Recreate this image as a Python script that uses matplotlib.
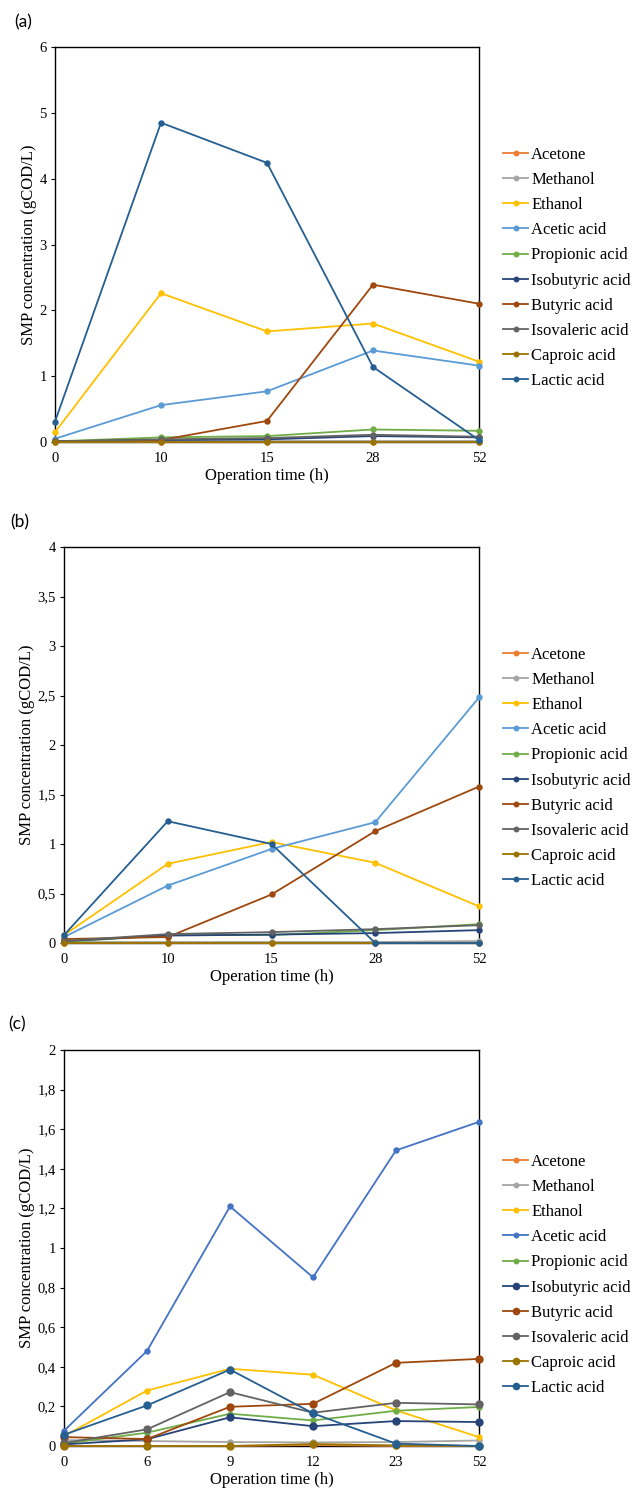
import matplotlib
matplotlib.use("Agg")
import matplotlib.pyplot as plt

plt.rcParams['font.family'] = ['Liberation Serif', 'DejaVu Serif']

series_names = ["Acetone", "Methanol", "Ethanol", "Acetic acid", "Propionic acid",
                "Isobutyric acid", "Butyric acid", "Isovaleric acid", "Caproic acid", "Lactic acid"]

colors_ab = ["#ED7D31", "#A5A5A5", "#FFC000", "#5B9BD5", "#70AD47",
             "#264478", "#9E480E", "#636363", "#997300", "#255E91"]
colors_c = ["#ED7D31", "#A5A5A5", "#FFC000", "#4472C4", "#70AD47",
            "#264478", "#9E480E", "#636363", "#997300", "#255E91"]

# Panel (a)
times_a = ["0", "10", "15", "28", "52"]
acetone_a = [0.0, 0.0, 0.0, 0.0, 0.0]
methanol_a = [0.01, 0.01, 0.01, 0.01, 0.01]
ethanol_a = [0.15, 2.26, 1.68, 1.80, 1.22]
acetic_a = [0.05, 0.56, 0.77, 1.39, 1.16]
propionic_a = [0.01, 0.07, 0.09, 0.19, 0.17]
isobutyric_a = [0.01, 0.03, 0.04, 0.09, 0.07]
butyric_a = [0.01, 0.03, 0.32, 2.39, 2.10]
isovaleric_a = [0.01, 0.04, 0.06, 0.11, 0.08]
caproic_a = [0.0, 0.0, 0.0, 0.0, 0.0]
lactic_a = [0.31, 4.85, 4.24, 1.14, 0.03]

# Panel (b)
times_b = ["0", "10", "15", "28", "52"]
acetone_b = [0.0, 0.0, 0.0, 0.0, 0.0]
methanol_b = [0.01, 0.01, 0.01, 0.01, 0.02]
ethanol_b = [0.08, 0.80, 1.02, 0.81, 0.37]
acetic_b = [0.06, 0.58, 0.95, 1.22, 2.48]
propionic_b = [0.01, 0.08, 0.08, 0.13, 0.19]
isobutyric_b = [0.02, 0.075, 0.085, 0.10, 0.13]
butyric_b = [0.04, 0.06, 0.49, 1.13, 1.58]
isovaleric_b = [0.02, 0.09, 0.11, 0.14, 0.18]
caproic_b = [0.0, 0.0, 0.0, 0.0, 0.0]
lactic_b = [0.08, 1.23, 1.00, 0.0, 0.0]

# Panel (c)
times_c = ["0", "6", "9", "12", "23", "52"]
acetone_c = [0.0, 0.0, 0.0, 0.005, 0.0, 0.0]
methanol_c = [0.03, 0.025, 0.02, 0.018, 0.02, 0.028]
ethanol_c = [0.05, 0.28, 0.39, 0.36, 0.18, 0.045]
acetic_c = [0.077, 0.48, 1.21, 0.852, 1.493, 1.637]
propionic_c = [0.012, 0.067, 0.163, 0.129, 0.178, 0.197]
isobutyric_c = [0.008, 0.034, 0.145, 0.10, 0.126, 0.121]
butyric_c = [0.045, 0.035, 0.198, 0.213, 0.42, 0.44]
isovaleric_c = [0.015, 0.084, 0.272, 0.168, 0.218, 0.21]
caproic_c = [0.0, 0.0, 0.0, 0.01, 0.003, 0.0]
lactic_c = [0.057, 0.205, 0.386, 0.165, 0.012, 0.0]

panels = [
    dict(label="(a)", times=times_a,
         data=[acetone_a, methanol_a, ethanol_a, acetic_a, propionic_a,
               isobutyric_a, butyric_a, isovaleric_a, caproic_a, lactic_a],
         colors=colors_ab, ymax=6, ystep=1.0, yticklabels=["0", "1", "2", "3", "4", "5", "6"],
         box=(55, 47, 479, 442), label_xy=(14, 22), leg_y=268, big=[]),
    dict(label="(b)", times=times_b,
         data=[acetone_b, methanol_b, ethanol_b, acetic_b, propionic_b,
               isobutyric_b, butyric_b, isovaleric_b, caproic_b, lactic_b],
         colors=colors_ab, ymax=4, ystep=0.5,
         yticklabels=["0", "0,5", "1", "1,5", "2", "2,5", "3", "3,5", "4"],
         box=(64, 547, 479, 943), label_xy=(10, 522), leg_y=768, big=[]),
    dict(label="(c)", times=times_c,
         data=[acetone_c, methanol_c, ethanol_c, acetic_c, propionic_c,
               isobutyric_c, butyric_c, isovaleric_c, caproic_c, lactic_c],
         colors=colors_c, ymax=2, ystep=0.2,
         yticklabels=["0", "0,2", "0,4", "0,6", "0,8", "1", "1,2", "1,4", "1,6", "1,8", "2"],
         box=(64, 1050, 479, 1446), label_xy=(8, 1024), leg_y=1275,
         big=[5, 6, 7, 8, 9]),
]

W, H = 632, 1490
fig = plt.figure(figsize=(W / 100, H / 100), dpi=100)

for p in panels:
    l, t, r, b = p["box"]
    ax = fig.add_axes([l / W, 1 - b / H, (r - l) / W, (b - t) / H])
    x = list(range(len(p["times"])))
    handles = []
    for i, (name, vals) in enumerate(zip(series_names, p["data"])):
        ms = 5 if i in p["big"] else 3.6
        h, = ax.plot(x, vals, color=p["colors"][i], lw=1.3, marker='o', ms=ms,
                     label=name, clip_on=False, zorder=3 + i)
        handles.append(h)
    ax.set_xlim(0, len(x) - 1)
    ax.set_ylim(0, p["ymax"])
    n = len(p["yticklabels"])
    ax.set_yticks([k * p["ystep"] for k in range(n)])
    ax.set_yticklabels(p["yticklabels"], fontsize=10.5)
    ax.set_xticks(x)
    ax.set_xticklabels(p["times"], fontsize=10.5)
    ax.tick_params(axis='x', length=0, pad=7)
    ax.tick_params(axis='y', direction='out', length=3, width=0.8, pad=3)
    for s in ax.spines.values():
        s.set_linewidth(1.0)
        s.set_color('black')
    ax.set_xlabel("Operation time (h)", fontsize=12, labelpad=2)
    ax.set_ylabel("SMP concentration (gCOD/L)", fontsize=12, labelpad=2)
    fig.text(p["label_xy"][0] / W, 1 - p["label_xy"][1] / H, p["label"],
             fontsize=12.5, family=['Lato', 'DejaVu Sans'], ha='left', va='center')
    fig.legend(handles=handles, loc='center left',
               bbox_to_anchor=(503 / W, 1 - p["leg_y"] / H),
               frameon=False, fontsize=12, handlelength=1.5, handletextpad=0.2,
               labelspacing=0.55, borderpad=0, borderaxespad=0, markerscale=0.9)

fig.savefig("out.png", dpi=100)
